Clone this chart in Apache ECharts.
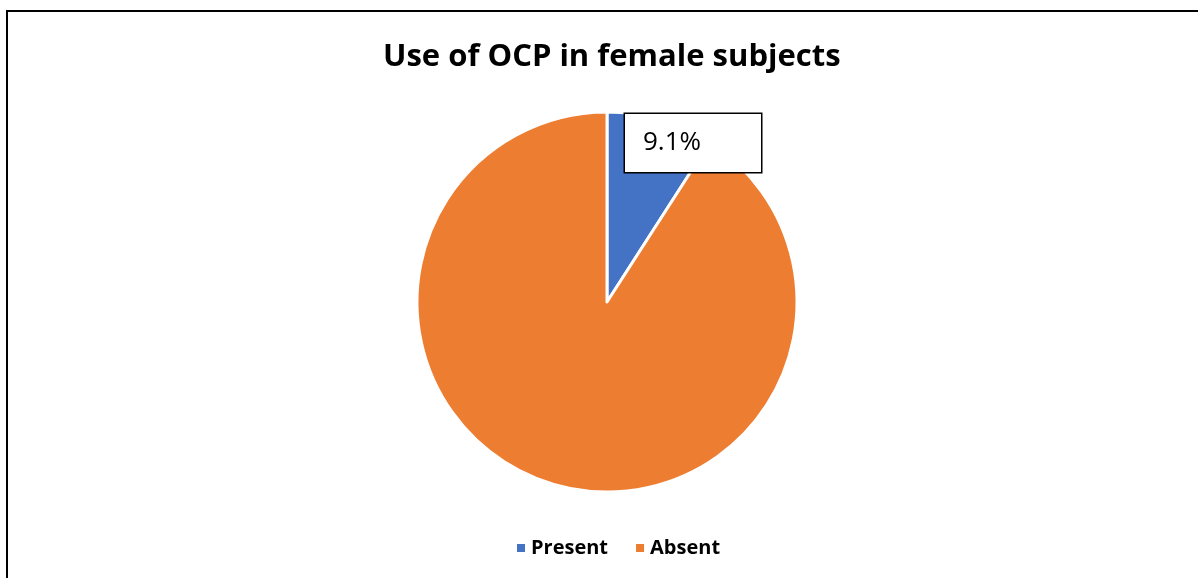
<!DOCTYPE html>
<html>
<head>
<meta charset="utf-8">
<script src="https://cdn.jsdelivr.net/npm/echarts@6/dist/echarts.min.js"></script>
<style>
  html, body { margin: 0; padding: 0; background: #fff; }
  #frame { position: absolute; left: 6px; top: 10px; width: 1200px; height: 580px;
           border-left: 2px solid #000; border-top: 2px solid #000; box-sizing: border-box; }
  #chart { position: absolute; left: 0; top: 0; width: 1198px; height: 578px; }
</style>
</head>
<body>
<div id="frame"></div>
<div id="chart"></div>
<script>
// Oral contraceptive pill use among female subjects (percent)
const categories = ['Present', 'Absent'];
const percentages = [9.1, 90.9];
const colors = ['#4472C4', '#ED7D31'];

const chart = echarts.init(document.getElementById('chart'));
chart.setOption({
  animation: false,
  title: {
    text: 'Use of OCP in female subjects',
    left: 378, top: 37,
    textStyle: { fontFamily: 'Open Sans', fontWeight: 'bold', fontSize: 31, color: '#000' }
  },
  legend: {
    bottom: 15, left: 510,
    icon: 'rect', itemWidth: 10, itemHeight: 10, itemGap: 26,
    textStyle: { fontFamily: 'Open Sans', fontWeight: 'bold', fontSize: 20, color: '#000' },
    data: categories
  },
  series: [{
    type: 'pie',
    center: [607, 302],
    radius: 190,
    startAngle: 90,
    clockwise: true,
    itemStyle: { borderColor: '#fff', borderWidth: 3 },
    data: categories.map((c, i) => ({
      name: c, value: percentages[i],
      itemStyle: { color: colors[i] },
      label: i === 0 ? {
        show: true, position: 'inside',
        formatter: p => p.value.toFixed(1) + '%',
        fontFamily: 'Open Sans', fontSize: 26, color: '#000',
        backgroundColor: '#fff', borderColor: '#000', borderWidth: 1.5,
        width: 100, height: 34, lineHeight: 34, align: 'left', verticalAlign: 'middle',
        padding: [12, 18, 12, 18]
      } : { show: false },
      labelLine: { show: false }
    })),
    labelLayout: p => (p.dataIndex === 0 ? { x: 625, y: 143, align: 'left', verticalAlign: 'middle' } : {})
  }]
});
</script>
</body>
</html>
